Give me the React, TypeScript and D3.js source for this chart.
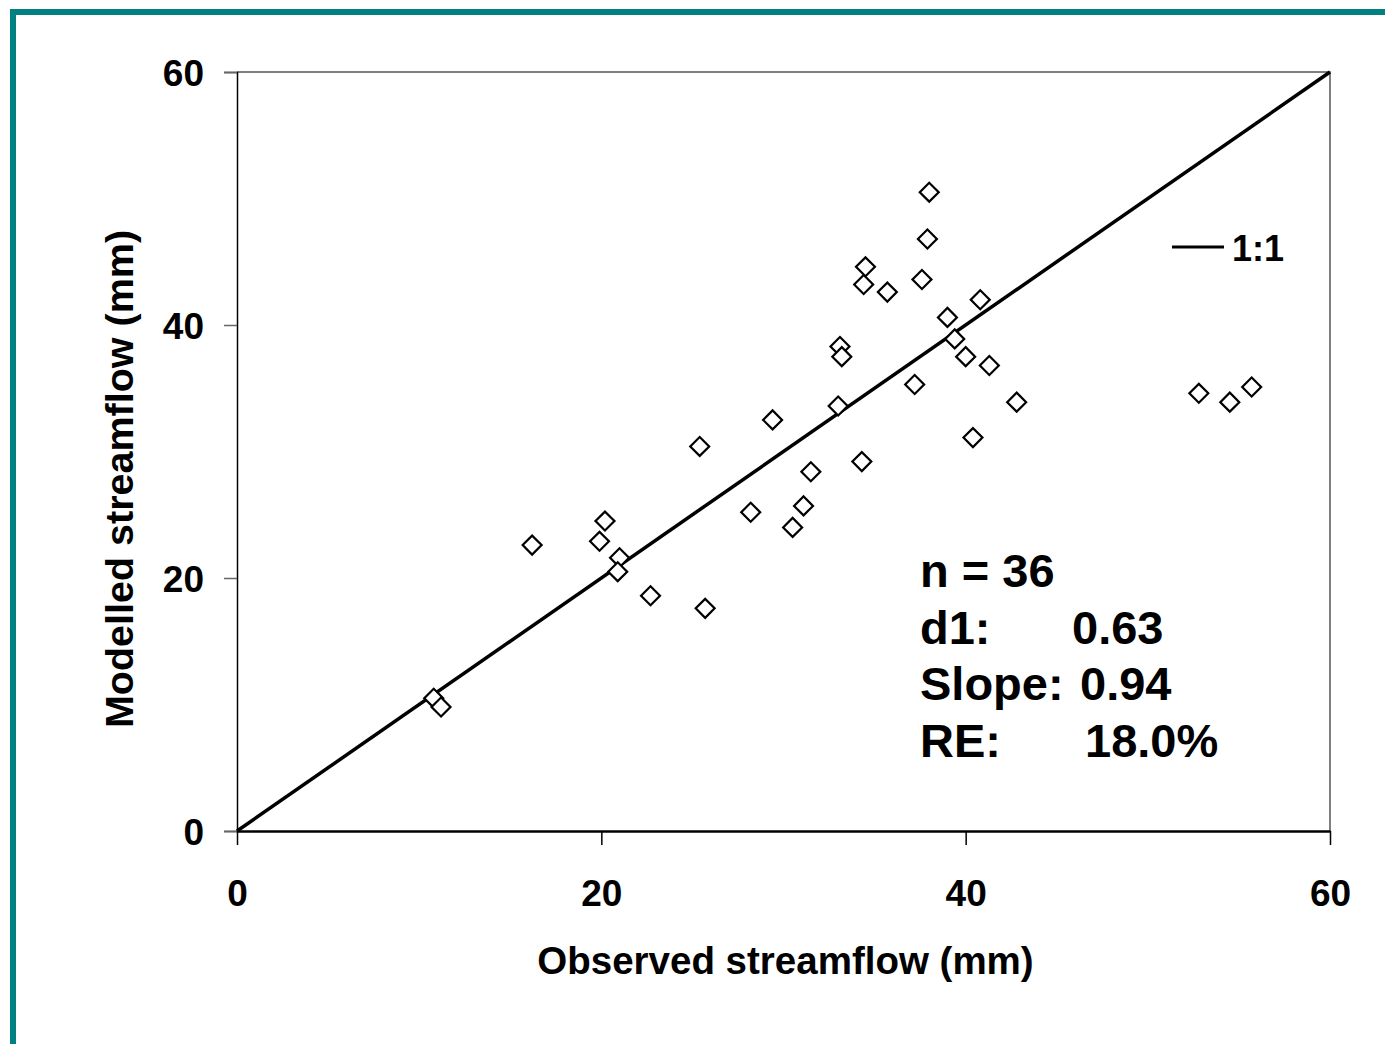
import { useEffect, useRef } from "react";
import * as d3 from "d3";

// observed vs modelled streamflow (mm)
const observed = [
  10.8, 11.2, 16.2, 19.9, 20.2, 21.0, 20.9, 22.7, 25.4, 25.7, 28.2, 29.4,
  30.5, 31.1, 31.5, 33.0, 33.1, 33.2, 34.3, 34.4, 34.5, 35.7, 37.2, 37.6,
  37.9, 38.0, 39.0, 39.4, 40.0, 40.4, 40.8, 41.3, 42.8, 52.8, 54.5, 55.7,
];
const modelled = [
  10.5, 9.8, 22.6, 22.9, 24.5, 21.6, 20.5, 18.6, 30.4, 17.6, 25.2, 32.5,
  24.0, 25.7, 28.4, 33.6, 38.3, 37.5, 29.2, 43.2, 44.6, 42.6, 35.3, 43.6,
  46.8, 50.5, 40.6, 38.9, 37.5, 31.1, 42.0, 36.8, 33.9, 34.6, 33.9, 35.1,
];
const xTicks = [0, 20, 40, 60];
const yTicks = [0, 20, 40, 60];
const statLabels = ["n = 36", "d1:", "Slope:", "RE:"];
const statValues = ["", "0.63", "0.94", "18.0%"];
const statValueX = [0, 1072, 1080, 1085];

const FONT = "'Liberation Sans', Arial, sans-serif";

const App = () => {
  const svgRef = useRef<SVGSVGElement>(null);

  useEffect(() => {
    document.body.style.margin = "0";
    if (!svgRef.current) return;
    const svg = d3.select(svgRef.current);
    svg.selectAll("*").remove();

    const left = 237;
    const right = 1330;
    const top = 72;
    const bottom = 831;

    const x = d3.scaleLinear().domain([0, 60]).range([left, right]);
    const y = d3.scaleLinear().domain([0, 60]).range([bottom, top]);

    svg.append("rect").attr("width", 1385).attr("height", 1044).attr("fill", "#fff");

    // teal frame
    svg
      .append("rect")
      .attr("x", 13)
      .attr("y", 12)
      .attr("width", 1420)
      .attr("height", 1080)
      .attr("fill", "none")
      .attr("stroke", "#008080")
      .attr("stroke-width", 6);

    // plot box top/right
    svg
      .append("path")
      .attr("d", `M${left},${top}H${right}V${bottom}`)
      .attr("fill", "none")
      .attr("stroke", "#555")
      .attr("stroke-width", 1.5);

    // y axis
    const yAxis = svg
      .append("g")
      .attr("transform", `translate(${left},0)`)
      .call(d3.axisLeft(y).tickValues(yTicks).tickSize(13).tickFormat(d3.format("d")));
    yAxis.select(".domain").attr("stroke", "#000").attr("stroke-width", 1.5);
    yAxis.selectAll(".tick line").attr("stroke", "#666").attr("stroke-width", 1.5);
    yAxis
      .selectAll(".tick text")
      .attr("x", -33)
      .attr("dy", "0.36em")
      .attr("font-family", FONT)
      .attr("font-size", 37)
      .attr("font-weight", "bold")
      .attr("fill", "#000");

    // x axis
    const xAxis = svg
      .append("g")
      .attr("transform", `translate(0,${bottom})`)
      .call(d3.axisBottom(x).tickValues(xTicks).tickSize(14).tickSizeOuter(0).tickFormat(d3.format("d")));
    xAxis.select(".domain").attr("stroke", "#000").attr("stroke-width", 2.5);
    xAxis.selectAll(".tick line").attr("stroke", "#000").attr("stroke-width", 1.5);
    xAxis
      .selectAll(".tick text")
      .attr("y", 62)
      .attr("dy", "0.36em")
      .attr("font-family", FONT)
      .attr("font-size", 37)
      .attr("font-weight", "bold")
      .attr("fill", "#000");

    // 1:1 line
    const line = d3
      .line<number>()
      .x((d) => x(d))
      .y((d) => y(d));
    svg
      .append("path")
      .datum([0, 60])
      .attr("d", line)
      .attr("fill", "none")
      .attr("stroke", "#000")
      .attr("stroke-width", 3.5);

    // points
    const diamond = d3.symbol(d3.symbolSquare, 180);
    svg
      .append("g")
      .selectAll("path")
      .data(observed.map((o, i) => [o, modelled[i]]))
      .join("path")
      .attr("d", diamond as any)
      .attr("transform", (d) => `translate(${x(d[0])},${y(d[1])}) rotate(45)`)
      .attr("fill", "#fff")
      .attr("stroke", "#000")
      .attr("stroke-width", 2.2);

    // axis titles
    svg
      .append("text")
      .attr("x", (left + right) / 2 + 2)
      .attr("y", 974)
      .attr("text-anchor", "middle")
      .attr("font-family", FONT)
      .attr("font-size", 38.5)
      .attr("font-weight", "bold")
      .text("Observed streamflow (mm)");

    svg
      .append("text")
      .attr("transform", `translate(133,479) rotate(-90)`)
      .attr("text-anchor", "middle")
      .attr("font-family", FONT)
      .attr("font-size", 39.5)
      .attr("font-weight", "bold")
      .text("Modelled streamflow (mm)");

    // legend
    svg
      .append("line")
      .attr("x1", 1172)
      .attr("x2", 1224)
      .attr("y1", 247)
      .attr("y2", 247)
      .attr("stroke", "#000")
      .attr("stroke-width", 3);
    svg
      .append("text")
      .attr("x", 1232)
      .attr("y", 261)
      .attr("font-family", FONT)
      .attr("font-size", 36)
      .attr("font-weight", "bold")
      .text("1:1");

    // stats
    const stats = svg
      .append("g")
      .attr("font-family", FONT)
      .attr("font-size", 47)
      .attr("font-weight", "bold");
    statLabels.forEach((label, i) => {
      const yy = 587 + i * 56.7;
      stats.append("text").attr("x", 920).attr("y", yy).text(label);
      if (statValues[i]) {
        stats.append("text").attr("x", statValueX[i]).attr("y", yy).text(statValues[i]);
      }
    });
  }, []);

  return (
    <svg
      ref={svgRef}
      width={1385}
      height={1044}
      style={{ display: "block", position: "absolute", left: 0, top: 0 }}
    ></svg>
  );
};

export default App;
